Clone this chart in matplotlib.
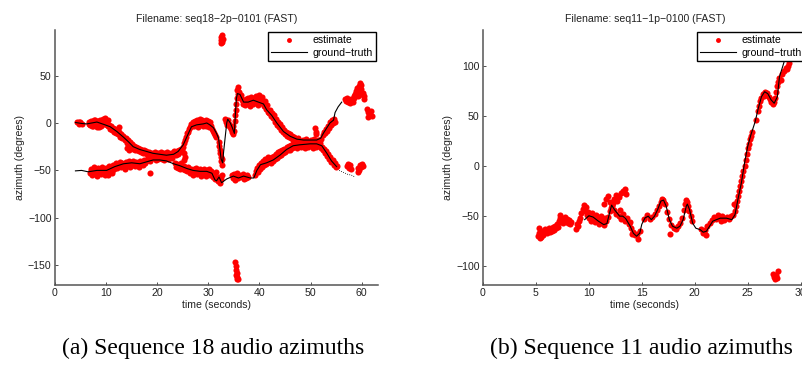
import numpy as np
import matplotlib
matplotlib.use("Agg")
import matplotlib.pyplot as plt

# ---------------- data: left panel (seq18) ----------------
title_a = "Filename: seq18\u22122p\u22120101 (FAST)"
title_b = "Filename: seq11\u22121p\u22120100 (FAST)"
caption_a = "(a) Sequence 18 audio azimuths"
caption_b = "(b) Sequence 11 audio azimuths"

gt_a1 = [(4.0, 0.5), (5.2, -0.5), (6.2, -1), (7.2, 0), (8.2, 1), (9.0, -0.5), (9.8, -2), (10.8, -4),
         (12.1, -9), (13.4, -15), (14.4, -20), (15.3, -25), (16.6, -28), (17.9, -30), (19.2, -32),
         (20.5, -33), (21.8, -34), (23.2, -33), (24.1, -30), (25.1, -23), (26.1, -11), (26.7, -4),
         (27.7, -2), (29.0, -1), (29.7, 0), (30.3, -2), (31.0, -5), (31.6, -11), (32.0, -16),
         (32.5, -38), (32.8, -42), (33.0, -30), (33.3, -15), (33.6, 0), (33.8, 4), (34.3, 0),
         (34.7, -5), (35.1, -11), (35.3, 10), (35.5, 26), (35.7, 31), (36.2, 30), (36.9, 22),
         (37.8, 22), (38.8, 24), (39.8, 22), (40.8, 20), (41.4, 14), (42.4, 8), (43.4, 0),
         (44.7, -9), (46.0, -14), (47.3, -17), (48.6, -18), (49.9, -18), (51.2, -18), (52.0, -16),
         (52.5, -11), (53.2, -5), (53.8, 0), (54.5, 3), (54.8, 11), (55.4, 17), (56.1, 22)]
gt_a2 = [(4.0, -50.5), (5.2, -50), (6.5, -51.5), (8.2, -50), (10.1, -50), (11.7, -46), (13.4, -43),
         (15.0, -42), (16.6, -43), (17.9, -41), (19.2, -39), (20.5, -39), (21.8, -40), (23.2, -43),
         (24.4, -45), (25.8, -48), (27.0, -50), (28.4, -51), (29.7, -51), (30.7, -53), (31.3, -60),
         (31.6, -61), (32.1, -57), (32.6, -63), (33.6, -59), (34.9, -56), (35.9, -58), (36.9, -56),
         (38.2, -58), (38.9, -58), (39.5, -50), (40.2, -44), (41.4, -42), (42.7, -39), (44.0, -34),
         (45.3, -28), (46.6, -24), (47.9, -23), (49.9, -22), (51.2, -22), (52.2, -24), (53.2, -32),
         (54.1, -40), (55.1, -46)]
gt_a2_tail = [(55.6, -50), (56.4, -52), (57.2, -54), (58.0, -55), (58.7, -57)]

est_a_upper = [
    (4.3, 1), (4.6, -1), (4.9, 0.5), (5.2, -1.5), (4.7, 1.5),
    (6.6, 1), (6.8, -2), (7.0, 2), (7.2, -3), (7.4, 0), (7.6, 3), (7.8, -2), (8.0, 1), (8.2, -4),
    (8.4, 2), (8.6, -1), (8.8, 3), (9.0, -3), (9.2, 1), (9.4, 4), (9.6, 2), (9.8, 5), (10.0, 0),
    (10.2, -2), (10.4, 3), (6.7, -1), (7.1, 1), (7.5, -3), (7.9, 3), (8.3, 0), (8.7, -4), (9.1, 2),
    (9.5, -1), (9.9, 2), (10.3, -3),
    (10.6, -2), (10.8, -6), (11.0, -3), (11.2, -7), (11.4, -5), (11.6, -9), (11.8, -6), (12.0, -11),
    (12.2, -8), (12.4, -12), (12.6, -10), (12.8, -15), (13.0, -12), (13.2, -16), (13.4, -14),
    (13.6, -18), (13.8, -16), (14.0, -21), (14.2, -18), (14.4, -23), (14.6, -20), (14.8, -25),
    (15.0, -22), (15.2, -27), (15.4, -24), (15.6, -28), (15.8, -25), (16.0, -29), (16.2, -26),
    (16.4, -30), (16.6, -27), (16.8, -31), (17.0, -28), (17.2, -32), (17.4, -29), (17.6, -32),
    (17.8, -30), (14.1, -26), (14.5, -28), (12.5, -4),
    (18.0, -33), (18.2, -36), (18.4, -31), (18.6, -38), (18.8, -34), (19.0, -32), (19.2, -37),
    (19.4, -35), (19.6, -31), (19.8, -39), (20.0, -34), (20.2, -32), (20.4, -37), (20.6, -35),
    (20.8, -31), (21.0, -38), (21.2, -34), (21.4, -32), (21.6, -36), (21.8, -35), (22.0, -31),
    (22.2, -38), (22.4, -34), (22.6, -32), (22.8, -37), (23.0, -33), (23.2, -30),
    (18.1, -38), (18.5, -40), (18.9, -36), (19.3, -33), (19.7, -36), (20.1, -38), (20.5, -33),
    (20.9, -36), (21.3, -39), (21.7, -33), (22.1, -35), (22.5, -37), (22.9, -34),
    (23.4, -31), (23.6, -34), (23.8, -30), (24.0, -33), (24.2, -29), (24.4, -31), (24.6, -27),
    (24.8, -29), (25.0, -25), (25.3, -32), (25.4, -36), (25.3, -39),
    (25.2, -21), (25.4, -18), (25.6, -15), (25.8, -11), (26.0, -9), (26.2, -6), (26.4, -4),
    (26.6, -1), (26.8, -3),
    (27.0, 1), (27.2, -3), (27.4, 2), (27.6, -1), (27.8, 3), (28.0, -2), (28.2, 1), (28.4, 4),
    (28.6, -1), (28.8, 2), (29.0, -3), (29.2, 1), (29.4, -1), (29.6, 3), (29.8, -2), (30.0, 0),
    (30.2, -4), (30.4, 1), (30.6, -3), (30.8, -6), (31.0, -8), (31.2, -11), (31.4, -13), (31.6, -15),
    (27.1, -2), (27.5, 0), (27.9, -4), (28.3, -1), (28.7, 3), (29.1, 0), (29.5, -3), (29.9, 2),
    (30.3, -2),
    (32.0, -20), (32.1, -24), (32.2, -28), (32.3, -32), (32.4, -36), (32.5, -40), (32.6, -44),
    (32.7, -38),
    (33.3, 4), (33.5, 1), (33.7, -2), (33.9, 3), (34.1, -1), (34.3, -4), (34.5, -6), (34.7, -9),
    (34.9, -12), (35.1, -8), (34.8, -3),
    (35.2, 2), (35.3, 8), (35.4, 14), (35.5, 20), (35.6, 26),
    (35.7, 35), (35.8, 31), (35.9, 38), (36.0, 28), (36.1, 33), (36.3, 30), (36.4, 26), (36.6, 24),
    (36.8, 20), (37.0, 23), (37.2, 19), (37.4, 25), (37.6, 21), (37.8, 26), (38.0, 22), (38.2, 18),
    (38.4, 27), (38.6, 23), (38.8, 20), (39.0, 26), (39.2, 22), (39.4, 28), (39.6, 24), (39.8, 19),
    (40.0, 30), (40.2, 25), (40.4, 21), (40.6, 27), (40.8, 18), (41.0, 23), (41.2, 15), (41.4, 19),
    (41.6, 12),
    (41.8, 10), (42.0, 14), (42.2, 7), (42.4, 11), (42.6, 5), (42.8, 8), (43.0, 1), (43.2, 4),
    (43.4, -2), (43.6, 1), (43.8, -4), (44.0, -1), (44.2, -7), (44.4, -4), (44.6, -10), (44.8, -7),
    (45.0, -12), (45.2, -9), (45.4, -14), (45.6, -11), (45.8, -15), (46.0, -12), (46.2, -16),
    (46.4, -14), (46.6, -18), (46.8, -15),
    (47.0, -17), (47.3, -20), (47.6, -16), (47.9, -19), (48.2, -22), (48.5, -18), (48.8, -21),
    (49.1, -17), (49.4, -20), (49.7, -23), (50.0, -18), (50.3, -21), (50.6, -17), (50.9, -20),
    (51.2, -23), (51.5, -18), (51.8, -21), (52.1, -17),
    (50.9, -5), (51.0, -9), (51.1, -12),
    (52.4, -13), (52.6, -9), (52.8, -11), (53.0, -6), (53.2, -8), (53.4, -3), (53.6, -5), (53.8, 1),
    (54.0, -2), (54.2, 3), (54.4, 0), (54.6, 4), (54.8, 1),
    (56.7, 25), (56.9, 23), (57.1, 26), (57.3, 22), (57.5, 24), (57.7, 21), (57.9, 25), (58.1, 23),
    (58.3, 22), (58.5, 26),
    (58.5, 28), (58.7, 31), (58.9, 34), (59.1, 37), (59.3, 35), (59.5, 39), (59.7, 42), (59.8, 40),
    (59.9, 36), (59.4, 30), (59.6, 33), (59.2, 28),
    (60.3, 32), (60.4, 28), (60.5, 25),
    (61.0, 15), (61.2, 12), (61.4, 10), (61.6, 8), (61.8, 13), (62.0, 7), (61.3, 6)]

est_a_lower = [
    (6.8, -53), (7.0, -48), (7.2, -55), (7.4, -50), (7.6, -46), (7.8, -53), (8.0, -49), (8.2, -56),
    (8.4, -47), (8.6, -52), (8.8, -50), (9.0, -54), (9.2, -46), (9.4, -51), (9.6, -48), (9.8, -55),
    (10.0, -47), (10.2, -52), (10.4, -49), (10.6, -45), (10.8, -50), (11.0, -47), (11.2, -53),
    (11.4, -44), (11.6, -48), (7.1, -51), (7.9, -50), (8.7, -48), (9.5, -53), (10.3, -55), (11.1, -51),
    (11.8, -45), (12.0, -42), (12.2, -47), (12.4, -43), (12.6, -45), (12.8, -41), (13.0, -46),
    (13.2, -42), (13.4, -44), (13.6, -48), (13.8, -41), (14.0, -45), (14.2, -43), (14.4, -40),
    (14.6, -46), (14.8, -42), (15.0, -44), (15.2, -40), (15.4, -43), (15.6, -45), (15.8, -41),
    (16.0, -44), (16.2, -42), (16.4, -46), (16.6, -40), (16.8, -43), (17.0, -41), (17.2, -44),
    (17.4, -39), (17.6, -42), (17.8, -40),
    (18.6, -53),
    (23.4, -42), (23.6, -46), (23.8, -43), (24.0, -47), (24.2, -44), (24.4, -48), (24.6, -42),
    (24.8, -46), (25.0, -49), (25.2, -45), (25.4, -50), (25.6, -47), (25.8, -51), (26.0, -46),
    (26.2, -49), (26.4, -53), (26.6, -48), (26.8, -51), (27.0, -55), (27.2, -49), (27.4, -52),
    (27.6, -47), (27.8, -54), (28.0, -50), (28.2, -53), (28.4, -49), (28.6, -56), (28.8, -51),
    (29.0, -54), (29.2, -49), (29.4, -52), (29.6, -56), (29.8, -50), (30.0, -53), (30.2, -48),
    (30.4, -55), (30.6, -51), (30.8, -54), (31.0, -57),
    (31.2, -55), (31.4, -59), (31.6, -52), (31.8, -61), (32.0, -57), (32.2, -63), (32.4, -59),
    (32.6, -55),
    (34.6, -55), (34.8, -58), (35.0, -54), (35.2, -60), (35.4, -56), (35.6, -53), (35.8, -58),
    (36.0, -55), (36.6, -57), (36.8, -54), (37.0, -59), (37.2, -56), (37.4, -58), (37.6, -55),
    (37.8, -57),
    (39.1, -55), (39.3, -51), (39.5, -47), (39.7, -52), (39.9, -44), (40.1, -48), (40.3, -42),
    (40.5, -46), (40.7, -40), (40.9, -44), (41.1, -38), (41.3, -43), (41.5, -40), (41.7, -36),
    (41.9, -41),
    (42.1, -38), (42.3, -42), (42.5, -36), (42.7, -40), (42.9, -35), (43.1, -38), (43.3, -33),
    (43.5, -37), (43.7, -31), (43.9, -35), (44.1, -30), (44.3, -34), (44.5, -28), (44.7, -32),
    (44.9, -27), (45.1, -31), (45.3, -25), (45.5, -29), (45.7, -24), (45.9, -28), (46.1, -23),
    (46.3, -26), (46.5, -22), (46.7, -25),
    (47.1, -24), (47.4, -26), (47.8, -23), (48.1, -25), (48.4, -21), (48.7, -24), (49.0, -26),
    (49.3, -22), (49.6, -25), (49.9, -21), (50.2, -24), (50.5, -26), (50.8, -22), (51.1, -25),
    (51.4, -21), (51.7, -24), (52.0, -26),
    (52.3, -25), (52.5, -29), (52.7, -27), (52.9, -32), (53.1, -30), (53.3, -35), (53.5, -33),
    (53.7, -38), (53.9, -36), (54.1, -41), (54.3, -39), (54.5, -44), (54.7, -42), (54.9, -46),
    (55.1, -45),
    (57.2, -45), (57.4, -43), (57.6, -47), (57.8, -44), (58.0, -48), (59.2, -47), (59.4, -50),
    (59.6, -44), (59.8, -46), (60.0, -43), (60.2, -45), (59.3, -52)]

est_a_outliers = [(32.4, 91), (32.5, 87), (32.6, 93), (32.7, 85), (32.8, 89), (32.5, 84),
                  (35.3, -147), (35.4, -151), (35.5, -155), (35.6, -158), (35.7, -162),
                  (35.8, -165), (35.5, -160), (35.6, -164)]

# ---------------- data: right panel (seq11) ----------------
gt_b = [(9.6, -53.5), (10.0, -49.6), (10.4, -50.9), (10.9, -55), (11.4, -58.4), (11.7, -57.4),
        (12.0, -45), (12.15, -39), (12.4, -43.3), (12.9, -50), (13.2, -50), (13.5, -52.8),
        (13.9, -60), (14.2, -67), (14.5, -70), (14.8, -67), (15.0, -58), (15.3, -51.8), (15.6, -50),
        (15.9, -53.5), (16.2, -50), (16.5, -43.3), (16.8, -35), (17.05, -34), (17.3, -40),
        (17.6, -53.5), (17.9, -60), (18.3, -62), (18.6, -60), (18.9, -53.5), (19.2, -40),
        (19.3, -38), (19.5, -43.3), (19.8, -57), (20.1, -62), (20.5, -63.4), (20.8, -66),
        (21.1, -65), (21.7, -55), (22.4, -52), (23.0, -52), (23.5, -53.5), (23.8, -48.5),
        (24.1, -32), (24.4, -17), (24.7, 3), (25.0, 19.5), (25.3, 31), (25.7, 44), (26.0, 57.5),
        (26.3, 69), (26.6, 74), (26.9, 72), (27.2, 66), (27.5, 62.5), (27.8, 69), (28.0, 89),
        (28.3, 99), (28.5, 106), (28.8, 115)]

est_b_main = [
    (5.2, -70), (5.3, -67), (5.4, -72), (5.5, -68), (5.6, -65), (5.7, -69), (5.8, -66), (5.9, -63),
    (6.0, -67), (6.1, -64), (6.2, -62), (6.3, -66), (6.4, -63), (6.5, -65), (6.6, -61), (6.7, -64),
    (6.8, -60), (6.9, -62), (7.0, -58), (7.1, -61), (7.2, -55), (7.3, -52), (7.4, -56), (7.5, -53),
    (7.6, -57), (7.7, -51), (7.8, -55), (7.9, -53), (8.0, -57), (8.1, -54), (8.2, -58), (8.3, -56),
    (5.3, -62), (5.5, -71), (7.3, -49),
    (8.8, -63), (8.9, -58), (9.0, -60), (9.1, -55), (9.2, -52), (9.3, -47), (9.4, -43), (9.5, -39),
    (9.6, -45), (9.7, -41), (9.8, -49), (9.9, -46), (10.0, -52), (10.1, -48),
    (10.2, -55), (10.4, -51), (10.6, -56), (10.8, -53), (11.0, -58), (11.2, -54), (11.4, -59),
    (11.6, -55), (11.8, -51), (10.3, -47), (10.7, -49), (11.1, -50), (11.5, -52),
    (11.4, -38), (11.6, -33), (11.8, -30), (12.0, -36), (12.2, -40), (12.4, -33), (12.6, -29),
    (12.8, -31), (13.0, -27), (12.1, -42), (12.3, -37), (12.7, -35), (13.2, -25), (13.4, -23),
    (13.5, -28), (13.3, -26), (12.9, -44),
    (12.0, -45), (12.2, -39), (12.4, -44), (12.6, -48), (12.8, -50), (13.0, -53), (13.2, -48),
    (13.4, -55), (13.6, -52), (13.8, -58), (14.0, -62), (14.2, -66), (14.4, -69), (14.6, -73),
    (14.5, -68), (14.8, -65), (13.9, -56), (14.1, -68),
    (15.2, -53), (15.5, -49), (15.8, -53), (16.0, -51), (16.2, -48), (16.4, -44), (16.6, -40),
    (16.8, -36), (17.0, -34), (17.2, -38), (16.9, -33), (17.1, -37), (17.4, -46), (17.6, -53),
    (17.8, -59), (18.0, -62), (17.7, -68), (18.2, -63), (18.4, -60), (18.6, -57), (18.8, -52),
    (19.0, -44), (19.1, -38), (19.2, -34), (19.3, -36), (19.4, -40), (19.5, -45), (19.6, -50),
    (19.7, -55),
    (20.6, -63), (20.8, -67), (21.0, -64), (21.2, -60), (21.4, -57), (21.6, -54), (21.8, -51),
    (22.0, -53), (22.2, -49), (22.4, -52), (22.6, -50), (22.8, -54), (23.0, -51), (23.2, -53),
    (23.4, -50), (22.5, -55), (21.1, -69), (23.6, -49),
    (23.8, -45), (23.9, -40), (24.0, -35), (24.1, -30), (24.2, -25), (24.3, -20), (24.4, -15),
    (24.5, -10), (24.6, -5), (24.7, 0), (24.8, 6), (24.9, 12), (25.0, 18), (25.1, 22), (25.2, 27),
    (25.3, 30), (25.4, 34), (23.7, -38),
    (25.8, 46), (26.0, 55), (26.1, 60), (26.2, 65), (26.3, 68), (26.4, 72), (26.5, 70), (26.6, 74),
    (26.7, 71), (26.8, 73), (27.0, 69), (27.1, 67), (27.2, 64), (27.4, 62), (27.5, 64), (27.6, 68),
    (27.7, 74), (27.8, 80), (27.9, 84), (28.0, 88), (28.1, 86), (28.2, 92), (28.4, 95), (28.6, 98),
    (28.8, 100), (28.9, 103), (28.7, 97)]

est_b_outliers = [(27.4, -108), (27.5, -111), (27.6, -113), (27.7, -109), (27.8, -112),
                  (27.9, -105), (27.6, -110)]

xticks_a = [0, 10, 20, 30, 40, 50, 60]
yticks_a = [-150, -100, -50, 0, 50]
xticks_b = [0, 5, 10, 15, 20, 25, 30]
yticks_b = [-100, -50, 0, 50, 100]

# ---------------- drawing ----------------
W, H = 802, 372
fig = plt.figure(figsize=(W / 100, H / 100), dpi=100)
sans = ["Liberation Sans", "DejaVu Sans"]
MS = 4.4
FS_TICK = 7.6
FS_LAB = 7.6


def px_axes(l, t, r, b):
    return fig.add_axes([l / W, 1 - b / H, (r - l) / W, (b - t) / H])


def style(ax, xlim, ylim, xt, yt):
    ax.set_xlim(*xlim)
    ax.set_ylim(*ylim)
    ax.set_xticks(xt)
    ax.set_yticks(yt)
    ax.set_xticklabels([str(v).replace('-', '\u2212') for v in xt], family=sans, fontsize=FS_TICK)
    ax.set_yticklabels([str(v).replace('-', '\u2212') for v in yt], family=sans, fontsize=FS_TICK)
    for s in ['top', 'right']:
        ax.spines[s].set_visible(False)
    for s in ['left', 'bottom']:
        ax.spines[s].set_color('#555555')
        ax.spines[s].set_linewidth(1.1)
    ax.tick_params(direction='in', length=2.5, width=0.6, colors='#333333', pad=2.5,
                   labelcolor='#222222')
    ax.set_xlabel("time (seconds)", family=sans, fontsize=FS_LAB, labelpad=1, color='#222222')
    ax.set_ylabel("azimuth (degrees)", family=sans, fontsize=FS_LAB, labelpad=2, color='#222222')


def draw_est(ax, pts, label=None):
    a = np.array(pts)
    return ax.plot(a[:, 0], a[:, 1], 'o', color='red', ms=MS, mec='none', label=label)[0]


def draw_gt(ax, pts, **kw):
    a = np.array(pts)
    return ax.plot(a[:, 0], a[:, 1], '-', color='black', lw=0.8, **kw)[0]


def legend(ax, h_est, h_gt):
    leg = ax.legend([h_est, h_gt], ["estimate", "ground\u2212truth"], loc='upper right',
                    prop={'family': sans, 'size': FS_LAB}, fancybox=False, framealpha=1,
                    edgecolor='black', borderpad=0.3, labelspacing=0.25, handlelength=3.4,
                    handletextpad=0.5, borderaxespad=0.2, numpoints=1, markerscale=0.8)
    leg.get_frame().set_linewidth(1.0)
    leg.set_zorder(10)


# left panel
ax1 = px_axes(55, 30, 378, 285)
h1 = draw_est(ax1, est_a_upper)
draw_est(ax1, est_a_lower)
draw_est(ax1, est_a_outliers)
g1 = draw_gt(ax1, gt_a1)
draw_gt(ax1, gt_a2)
a = np.array(gt_a2_tail)
ax1.plot(a[:, 0], a[:, 1], ':', color='black', lw=0.6)
style(ax1, (0, 63.2), (-170.8, 98), xticks_a, yticks_a)
ax1.set_title(title_a, family=sans, fontsize=FS_LAB, pad=6, color='#222222')
legend(ax1, h1, g1)

# right panel
ax2 = px_axes(483, 30, 807, 285)
h2 = draw_est(ax2, est_b_main)
draw_est(ax2, est_b_outliers)
g2 = draw_gt(ax2, gt_b)
style(ax2, (0, 30.6), (-118.6, 135.5), xticks_b, yticks_b)
ax2.set_title(title_b, family=sans, fontsize=FS_LAB, pad=6, color='#222222')
legend(ax2, h2, g2)

serif = ["Liberation Serif", "DejaVu Serif"]
fig.text(213 / W, 1 - 348 / H, caption_a, ha='center', va='center', family=serif, fontsize=17)
fig.text(641 / W, 1 - 348 / H, caption_b, ha='center', va='center', family=serif, fontsize=17)

fig.savefig("out.png", dpi=100)
